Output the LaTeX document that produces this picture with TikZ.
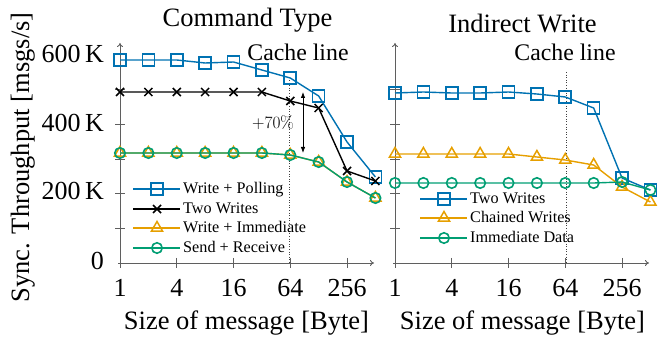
\documentclass[tikz,border=0pt]{standalone}
\usepackage[no-math]{fontspec}
\setmainfont{Liberation Serif}
\usetikzlibrary{shapes.geometric,shapes.misc,arrows.meta}

\definecolor{cblue}{RGB}{0,114,178}
\definecolor{corange}{RGB}{230,159,0}
\definecolor{cgreen}{RGB}{0,158,115}
\definecolor{axisgray}{RGB}{95,95,95}

\tikzset{
  series/.style={line width=1.4pt, line join=round},
  mksq/.style={draw, rectangle, minimum size=12pt, inner sep=0pt, line width=1.6pt},
  mkcirc/.style={draw, circle, minimum size=10.5pt, inner sep=0pt, line width=1.6pt},
  mktri/.style={draw, regular polygon, regular polygon sides=3, minimum size=13pt, inner sep=0pt, line width=1.5pt},
  mkx/.style={draw, cross out, minimum size=6.5pt, inner sep=0pt, line width=1.5pt},
  axisline/.style={draw=axisgray, line width=0.9pt, -{To[length=4pt,width=6pt]}},
  tickmark/.style={draw=axisgray, line width=0.7pt},
  cacheline/.style={dotted, line width=0.6pt, black!75},
  bigtext/.style={font=\fontsize{26.5}{30}\selectfont, inner sep=0pt},
  ticklabel/.style={font=\fontsize{26}{30}\selectfont, inner sep=0pt},
  cachelabel/.style={font=\fontsize{23.8}{27}\selectfont, inner sep=0pt, anchor=base},
  legendtext/.style={font=\fontsize{16.2}{19}\selectfont, inner sep=0pt, anchor=base west},
  gaparrow/.style={line width=0.8pt, {Latex[length=6pt,width=4.5pt]}-{Latex[length=6pt,width=4.5pt]}},
}

% one data series: name, x origin, y values (pixel rows), marker style, colour
\newcommand{\dataseries}[5]{%
  \foreach \yv [count=\i from 0] in {#3}
    \coordinate (#1\i) at ({#2+28.38*\i}, \yv);
  \draw[series, #5] (#10) \foreach \j in {1,...,9} { -- (#1\j) };
  \foreach \j in {0,...,9}
    \node[#4, #5] (#1m\j) at (#1\j) {};
}

% one legend row: name, line start x, row y, marker style, colour, text
\newcommand{\legendrow}[6]{%
  \coordinate (#1a) at (#2, #3);
  \coordinate (#1b) at (#2+47, #3);
  \draw[series, #5] (#1a) -- (#1b);
  \node[#4, #5] (#1m) at (#2+24, #3) {};
  \node[legendtext] (#1t) at (#2+50, #3+5) {#6};
}

\begin{document}
\begin{tikzpicture}[x=1pt, y=-1pt]
\useasboundingbox (0,0) rectangle (667,339);

% ---------- y axis label ----------
\node[bigtext, rotate=90, anchor=base] (ylab) at (29,157.5) {Sync. Throughput [msgs/s]};

% ---------- left panel: Command Type ----------
\node[bigtext, anchor=base] (ltitle) at (247.5,27) {Command Type};

\coordinate (lo) at (120,263);
\coordinate (lxend) at (374,263);
\coordinate (lyend) at (120,43);
\draw[axisline] (118,263) -- (lxend);
\draw[axisline] (120,265) -- (lyend);
\foreach \k in {1,...,5}
  \draw[tickmark] (115,{263-34.67*\k}) -- (125,{263-34.67*\k});
\foreach \k/\lab in {0/1,2/4,4/16,6/64,8/256} {
  \draw[tickmark] ({120+28.38*\k},258) -- ({120+28.38*\k},268);
  \node[ticklabel, anchor=base] (lx\k) at ({120+28.38*\k},297) {\lab};
}
\node[ticklabel, anchor=base east] (ly0) at (104,270) {0};
\node[ticklabel, anchor=base east] (ly2) at (104,200) {200\,K};
\node[ticklabel, anchor=base east] (ly4) at (104,132) {400\,K};
\node[ticklabel, anchor=base east] (ly6) at (104,63) {600\,K};
\node[bigtext, anchor=base] (lxlab) at (246.5,329) {Size of message [Byte]};

\coordinate (lcachetop) at (289,80);
\coordinate (lcachebot) at (289,263);
\draw[cacheline] (lcachetop) -- (lcachebot);
\node[cachelabel] (lcache) at (298,61) {Cache line};

\dataseries{wp}{120}{60,60,60,63,62,70,78,96,142,177}{mksq}{cblue}
\dataseries{tw}{120}{92,92,92,92,92,92,101,108,171,181}{mkx}{black}
\dataseries{wi}{120}{153,153,153,153,153,153,155,162,182,198}{mktri}{corange}
\dataseries{sr}{120}{153,153,153,153,153,153,155,162,182,198}{mkcirc}{cgreen}

\coordinate (gaptop) at (303,92);
\coordinate (gapbot) at (303,153);
\draw[gaparrow] (gaptop) -- (gapbot);
\node[font=\fontsize{16.5}{18}\selectfont, inner sep=0pt] (gaplab) at (273,123) {$+70\%$};

\legendrow{lgwp}{133}{189}{mksq}{cblue}{Write + Polling}
\legendrow{lgtw}{133}{209}{mkx}{black}{Two Writes}
\legendrow{lgwi}{133}{228}{mktri}{corange}{Write + Immediate}
\legendrow{lgsr}{133}{248}{mkcirc}{cgreen}{Send + Receive}

% ---------- right panel: Indirect Write ----------
\node[bigtext, anchor=base] (rtitle) at (522.5,33) {Indirect Write};

\coordinate (ro) at (395,263);
\coordinate (rxend) at (649,263);
\coordinate (ryend) at (395,43);
\draw[axisline] (393,263) -- (rxend);
\draw[axisline] (395,265) -- (ryend);
\foreach \k in {1,...,5}
  \draw[tickmark] (390,{263-34.67*\k}) -- (400,{263-34.67*\k});
\foreach \k/\lab in {0/1,2/4,4/16,6/64,8/256} {
  \draw[tickmark] ({395+28.38*\k},258) -- ({395+28.38*\k},268);
  \node[ticklabel, anchor=base] (rx\k) at ({395+28.38*\k},297) {\lab};
}
\node[bigtext, anchor=base] (rxlab) at (522.5,329) {Size of message [Byte]};

\coordinate (rcachetop) at (566,72);
\coordinate (rcachebot) at (566,263);
\draw[cacheline] (rcachetop) -- (rcachebot);
\node[cachelabel] (rcache) at (565,61) {Cache line};

\dataseries{rtw}{395}{93,92,93,93,92,94,97,108,178,190}{mksq}{cblue}
\dataseries{rcw}{395}{154,154,154,154,154,157,160,165,187,202}{mktri}{corange}
\dataseries{rid}{395}{183,183,183,183,183,183,183,183,182,190}{mkcirc}{cgreen}

\legendrow{rgtw}{420}{199}{mksq}{cblue}{Two Writes}
\legendrow{rgcw}{420}{218}{mktri}{corange}{Chained Writes}
\legendrow{rgid}{420}{238}{mkcirc}{cgreen}{Immediate Data}
\end{tikzpicture}
\end{document}
